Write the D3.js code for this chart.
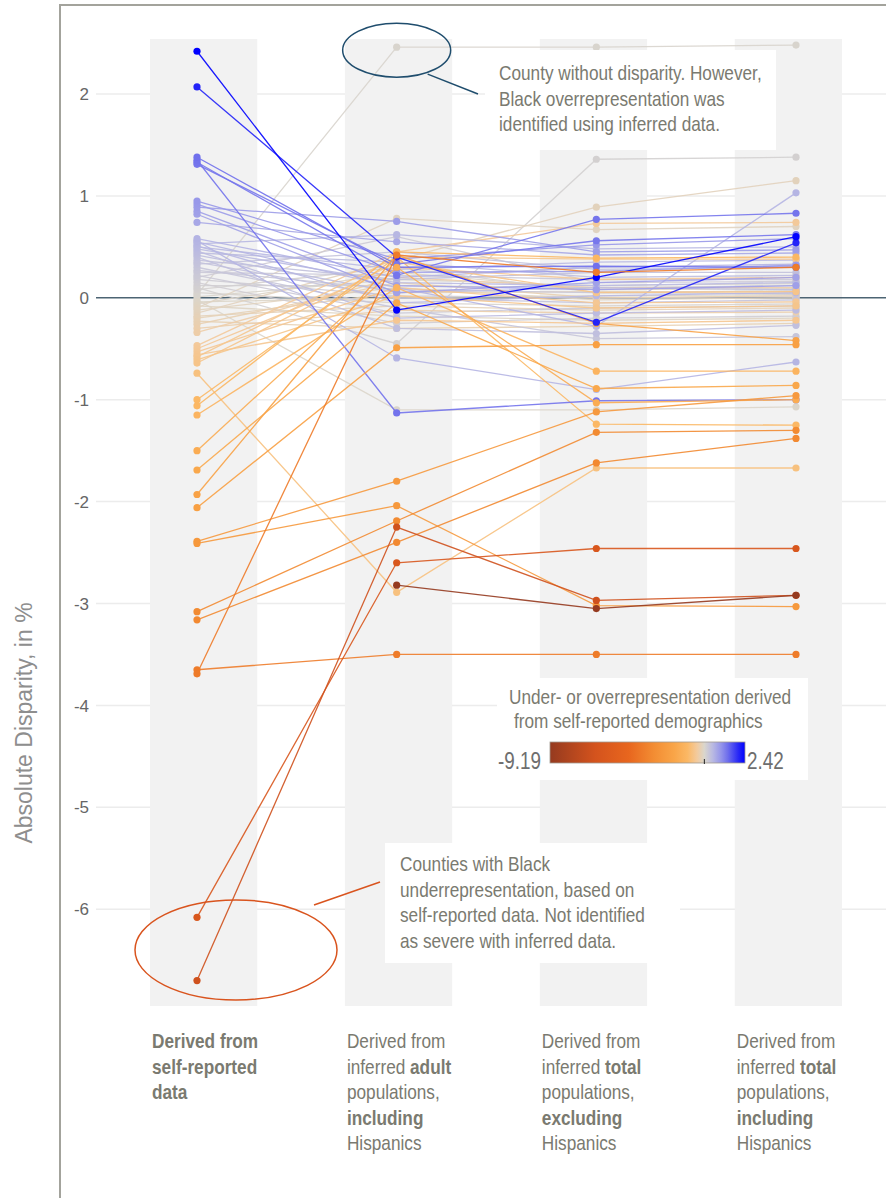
<!DOCTYPE html>
<html>
<head>
<meta charset="utf-8">
<script src="https://cdn.jsdelivr.net/npm/d3@7"></script>
<style>
  html, body { margin: 0; padding: 0; background: #fff; }
  svg { display: block; }
</style>
</head>
<body>
<svg id="chart" width="886" height="1198"></svg>
<script>
// ---- data -------------------------------------------------------------
// One entry per county; the four arrays are the absolute disparity (in %)
// under each way of deriving the demographics.
const columns = ["selfReported", "adultIncl", "totalExcl", "totalIncl"];

const selfReported = [
  2.42, 2.07, 1.38, 1.35, 1.33, 1.31, 0.95, 0.92, 0.89, 0.85,
  0.82, 0.74, 0.58, 0.56, 0.55, 0.53, 0.51, 0.50, 0.48, 0.46,
  0.44, 0.42, 0.40, 0.37, 0.35, 0.33, 0.30, 0.27, 0.25, 0.22,
  0.20, 0.18, 0.15, 0.12, 0.10, 0.08, 0.05, 0.03, 0.01, -0.02,
  -0.04, -0.06, -0.08, -0.10, -0.12, -0.15, -0.18, -0.20, -0.23, -0.26,
  -0.30, -0.34, -0.47, -0.50, -0.53, -0.56, -0.58, -0.61, -0.64, -0.74,
  -1.00, -1.06, -1.15, -1.50, -1.69, -1.93, -2.06, -2.39, -2.41, -3.08,
  -3.16, -3.65, -3.69, -6.08, -6.70, -9.19
];

const adultIncl = [
  -0.12, 0.40, 0.30, -1.13, 0.22, 0.33, 0.38, 0.25, 0.75, 0.12,
  0.05, 0.55, 0.20, -0.59, 0.10, 0.62, -0.05, 0.28, 0.15, -0.20,
  0.35, 0.05, -0.30, 0.18, 0.00, 0.45, -0.10, 0.08, 0.22, -0.15,
  0.60, 0.02, -0.25, 0.12, -0.45, 0.30, -0.05, 2.46, 0.18, -1.10,
  0.00, 0.25, -0.18, 0.78, 0.10, 0.37, -0.08, 0.05, -0.30, 0.15,
  -0.12, 0.20, 0.45, 0.30, 0.10, -0.22, 0.40, 0.02, 0.35, -2.89,
  0.40, 0.45, 0.10, 0.30, -0.05, 0.42, -0.49, -1.80, -2.04, -2.19,
  -2.40, -3.50, 0.42, -2.60, -2.25, -2.82
];

const totalExcl = [
  0.20, -0.24, 0.31, -1.01, 0.77, 0.56, 0.52, 0.26, 0.45, 0.08,
  0.15, 0.42, 0.30, -0.90, -0.28, 0.48, 0.02, 0.35, 0.12, -0.15,
  0.20, 0.10, -0.35, 0.25, -0.05, 0.28, -0.40, 0.05, 0.18, -0.10,
  0.15, 0.00, -0.20, 0.10, 1.36, 0.05, -0.08, 2.46, 0.12, -1.10,
  0.02, 0.08, -0.22, 0.67, -0.02, 0.89, -0.12, 0.06, -0.28, 0.00,
  -0.15, 0.10, 0.73, 0.18, -0.05, -0.25, 0.38, -0.10, 0.05, -1.67,
  -1.24, 0.39, -0.72, -1.03, -0.89, -0.25, -0.46, -1.12, -3.02, -1.32,
  -1.62, -3.50, 0.25, -2.46, -2.97, -3.05
];

const totalIncl = [
  0.60, 0.54, 0.30, -1.00, 0.83, 0.62, 0.58, 0.32, 0.47, 0.12,
  0.20, 0.44, 0.33, -0.63, 1.03, 0.50, 0.05, 0.37, 0.15, -0.12,
  0.22, 0.08, -0.27, 0.25, -0.02, 0.30, -0.38, 0.04, 0.18, -0.08,
  0.16, 0.01, -0.18, 0.12, 1.38, 0.07, -0.06, 2.48, 0.14, -1.07,
  0.03, 0.09, -0.20, 0.70, 0.00, 1.15, -0.10, 0.06, -0.25, 0.02,
  -0.14, 0.10, 0.74, 0.20, -0.04, -0.22, 0.38, -0.08, 0.06, -1.67,
  -1.25, 0.40, -0.72, -1.00, -0.86, -0.42, -0.46, -0.96, -3.03, -1.30,
  -1.38, -3.50, 0.30, -2.46, -2.92, -2.92
];

const yTicks = [2, 1, 0, -1, -2, -3, -4, -5, -6];

// Colour ramp for the self-reported disparity
const colourStops = [-9.19, -6.5, -4.5, -3.0, -1.8, -1.0, -0.45, 0, 0.5, 1.0, 1.4, 2.0, 2.42];
const colourRange = ["#953a1f", "#d4531d", "#e8661e", "#f38d33", "#f9a548", "#fbb865",
                     "#f3ca9c", "#dad6cc", "#b9b9e2", "#9494ea", "#6e6eec", "#2a2af6", "#0000ff"];

// Column captions: each line is a list of [text, bold] runs
const columnLabels = [
  [[["Derived from", true]], [["self-reported", true]], [["data", true]]],
  [[["Derived from", false]], [["inferred ", false], ["adult", true]], [["populations,", false]],
   [["including", true]], [["Hispanics", false]]],
  [[["Derived from", false]], [["inferred ", false], ["total", true]], [["populations,", false]],
   [["excluding", true]], [["Hispanics", false]]],
  [[["Derived from", false]], [["inferred ", false], ["total", true]], [["populations,", false]],
   [["including", true]], [["Hispanics", false]]]
];

const noteTop = ["County without disparity. However,",
                 "Black overrepresentation was",
                 "identified using inferred data."];
const noteBottom = ["Counties with Black",
                    "underrepresentation, based on",
                    "self-reported data. Not identified",
                    "as severe with inferred data."];
const legendTitle = ["Under- or overrepresentation derived", "from self-reported demographics"];
const axisTitle = "Absolute Disparity, in %";

// ---- setup ------------------------------------------------------------
const W = 886, H = 1198;
const sans = "'Liberation Sans',Arial,sans-serif";
const textGrey = "#7a7a70";
const NARROW = 0.82;   // horizontal squeeze for the condensed captions

const svg = d3.select("#chart");

// condensed text: regular sans squeezed horizontally around its anchor point
function narrowText(parent, px, py, size, fill, anchor) {
  return parent.append("text")
    .attr("transform", `translate(${px},${py}) scale(${NARROW},1)`)
    .attr("text-anchor", anchor || "start")
    .attr("font-family", sans).attr("font-size", size).attr("fill", fill);
}

const series = selfReported.map((v, i) => ({
  colourValue: v,
  values: [selfReported[i], adultIncl[i], totalExcl[i], totalIncl[i]]
}));

const x = d3.scalePoint().domain(columns).range([197, 796]);
const xBand = d3.scaleBand().domain(columns).range([150, 842]).paddingInner(0.45);
const y = d3.scaleLinear().domain([-6.95, 2.54]).range([1006, 39]);
const colour = d3.scaleLinear().domain(colourStops).range(colourRange).interpolate(d3.interpolateRgb);
const [yMin, yMax] = y.domain();
const inRange = v => v >= yMin && v <= yMax;

// frame
svg.append("rect").attr("x", 60).attr("y", 5).attr("width", W).attr("height", H)
  .attr("fill", "none").attr("stroke", "#a3a39c").attr("stroke-width", 2);

// grid lines
svg.append("g").selectAll("line").data(yTicks.filter(t => t !== 0)).join("line")
  .attr("x1", 96).attr("x2", W)
  .attr("y1", d => y(d)).attr("y2", d => y(d))
  .attr("stroke", "#ececec").attr("stroke-width", 1.5);

// tick labels
svg.append("g").selectAll("text").data(yTicks).join("text")
  .attr("x", 89).attr("y", d => y(d)).attr("dy", "0.36em")
  .attr("text-anchor", "end")
  .attr("font-family", sans).attr("font-size", 17)
  .attr("fill", "#666")
  .text(d => d);

// axis title
svg.append("text")
  .attr("transform", `translate(32,${723}) rotate(-90)`)
  .attr("text-anchor", "middle")
  .attr("font-family", sans).attr("font-size", 23)
  .attr("fill", "#8e8e8e")
  .text(axisTitle);

// column bands
svg.append("g").selectAll("rect").data(columns).join("rect")
  .attr("x", d => xBand(d)).attr("width", xBand.bandwidth())
  .attr("y", y(yMax)).attr("height", y(yMin) - y(yMax))
  .attr("fill", "#f2f2f2");

// zero line
svg.append("line").attr("x1", 96).attr("x2", W).attr("y1", y(0)).attr("y2", y(0))
  .attr("stroke", "#4d6473").attr("stroke-width", 1.5);

// county lines and points, most extreme values on top
const ordered = series.slice().sort((a, b) => Math.abs(a.colourValue) - Math.abs(b.colourValue));
const line = d3.line()
  .defined(d => inRange(d.v))
  .x(d => x(d.c)).y(d => y(d.v));

const gCounty = svg.append("g");
ordered.forEach(s => {
  const pts = s.values.map((v, j) => ({ c: columns[j], v }));
  const col = colour(s.colourValue);
  gCounty.append("path").datum(pts)
    .attr("d", line)
    .attr("fill", "none").attr("stroke", col)
    .attr("stroke-width", 1.3).attr("stroke-opacity", 0.9);
  gCounty.selectAll(null).data(pts.filter(p => inRange(p.v))).join("circle")
    .attr("cx", p => x(p.c)).attr("cy", p => y(p.v)).attr("r", 3.6)
    .attr("fill", col);
});

// ---- annotations ------------------------------------------------------
// top: county with no self-reported disparity
const topPt = { x: x("adultIncl"), y: y(adultIncl[37]) };
svg.append("ellipse").attr("cx", topPt.x).attr("cy", topPt.y + 3)
  .attr("rx", 54).attr("ry", 27)
  .attr("fill", "none").attr("stroke", "#1f4d6d").attr("stroke-width", 1.5);
svg.append("line").attr("x1", topPt.x + 31).attr("y1", topPt.y + 27)
  .attr("x2", 478).attr("y2", 94)
  .attr("stroke", "#1f4d6d").attr("stroke-width", 1.5);
svg.append("rect").attr("x", 485).attr("y", 50).attr("width", 291).attr("height", 100).attr("fill", "#fff");
noteTop.forEach((t, i) => narrowText(svg, 499, 80 + i * 25.5, 21, textGrey).text(t));

// bottom: counties with severe self-reported underrepresentation
const lowPt = { x: x("selfReported"), y: y(-6.4) };
svg.append("ellipse").attr("cx", lowPt.x + 39).attr("cy", lowPt.y)
  .attr("rx", 101).attr("ry", 50)
  .attr("fill", "none").attr("stroke", "#d9541e").attr("stroke-width", 1.5);
svg.append("line").attr("x1", 314).attr("y1", 905).attr("x2", 380).attr("y2", 882)
  .attr("stroke", "#d9541e").attr("stroke-width", 1.5);
svg.append("rect").attr("x", 385).attr("y", 843).attr("width", 295).attr("height", 120).attr("fill", "#fff");
noteBottom.forEach((t, i) => narrowText(svg, 400, 871 + i * 25.7, 21, textGrey).text(t));

// ---- legend -----------------------------------------------------------
const legend = svg.append("g");
legend.append("rect").attr("x", 497).attr("y", 678).attr("width", 311).attr("height", 102).attr("fill", "#fff");
legendTitle.forEach((t, i) => narrowText(legend, i === 0 ? 509 : 514, 704 + i * 24, 21, textGrey).text(t));

const barX = d3.scaleLinear().domain([colourStops[0], colourStops[colourStops.length - 1]]).range([550, 745]);
const grad = svg.append("defs").append("linearGradient").attr("id", "ramp")
  .attr("x1", "0%").attr("x2", "100%").attr("y1", "0%").attr("y2", "0%");
grad.selectAll("stop").data(colourStops).join("stop")
  .attr("offset", d => (barX(d) - 550) / 195)
  .attr("stop-color", d => colour(d));
legend.append("rect").attr("x", barX.range()[0]).attr("y", 742)
  .attr("width", barX.range()[1] - barX.range()[0]).attr("height", 21)
  .attr("fill", "url(#ramp)").attr("stroke", "#a09a90").attr("stroke-width", 0.8);
legend.append("line").attr("x1", barX(0)).attr("x2", barX(0)).attr("y1", 759).attr("y2", 764)
  .attr("stroke", "#222").attr("stroke-width", 1);
narrowText(legend, 541, 769, 23, "#6e6e6e", "end").text(colourStops[0].toFixed(2));
narrowText(legend, 747, 769, 23, "#6e6e6e").text(colourStops[colourStops.length - 1].toFixed(2));

// ---- column captions --------------------------------------------------
const capG = svg.append("g");
columns.forEach((c, i) => {
  columnLabels[i].forEach((runs, li) => {
    const t = narrowText(capG, xBand(c) + 2, 1048 + li * 25.5, 21, textGrey);
    runs.forEach(([txt, bold]) => {
      t.append("tspan").attr("font-weight", bold ? "bold" : "normal").text(txt);
    });
  });
});
</script>
</body>
</html>
